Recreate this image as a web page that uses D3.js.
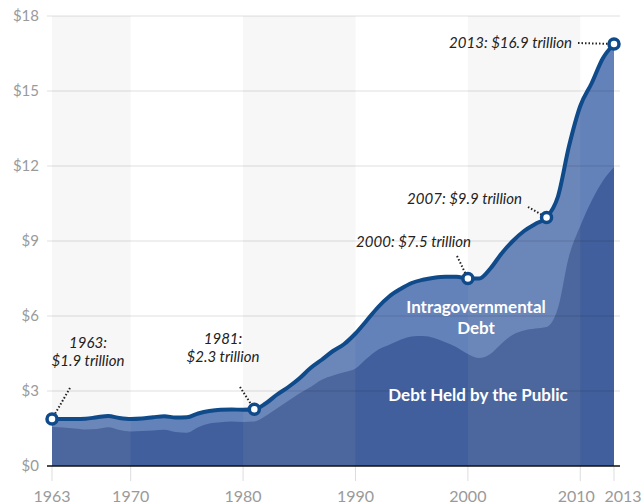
<!DOCTYPE html>
<html>
<head>
<meta charset="utf-8">
<script src="https://cdn.jsdelivr.net/npm/d3@7"></script>
<style>
  body { margin: 0; background: #fff; }
  svg { display: block; font-family: Lato, "Open Sans", sans-serif; }
</style>
</head>
<body>
<script>
// total debt and debt held by the public, trillions of 2013 dollars
const years = d3.range(1963, 2014);
const totalDebt = [
  1.88, 1.88, 1.88, 1.89, 1.95, 2.00, 1.92, 1.88, 1.90, 1.95,
  1.99, 1.94, 1.95, 2.10, 2.20, 2.25, 2.26, 2.25, 2.27, 2.50,
  2.85, 3.15, 3.50, 3.92, 4.25, 4.60, 4.88, 5.30, 5.82, 6.35,
  6.78, 7.08, 7.32, 7.45, 7.53, 7.57, 7.57, 7.50, 7.50, 7.90,
  8.50, 9.00, 9.40, 9.68, 9.94, 10.76, 12.80, 14.40, 15.30, 16.30,
  16.88
];
const publicDebt = [
  1.56, 1.54, 1.50, 1.46, 1.48, 1.55, 1.44, 1.38, 1.40, 1.42,
  1.45, 1.36, 1.33, 1.55, 1.70, 1.75, 1.78, 1.76, 1.78, 2.00,
  2.30, 2.60, 2.90, 3.16, 3.45, 3.62, 3.75, 3.90, 4.30, 4.65,
  4.85, 5.05, 5.18, 5.20, 5.12, 4.95, 4.75, 4.48, 4.32, 4.48,
  4.90, 5.25, 5.42, 5.50, 5.56, 6.30, 8.40, 9.60, 10.60, 11.40,
  11.96
];
const xTicks = [1963, 1970, 1980, 1990, 2000, 2010, 2013];
const yTicks = [0, 3, 6, 9, 12, 15, 18];
const bands = [[1963, 1970], [1980, 1990], [2000, 2010]];
const callouts = [
  {year: 1963, lines: ["1963:", "$1.9 trillion"]},
  {year: 1981, lines: ["1981:", "$2.3 trillion"]},
  {year: 2000, lines: ["2000: $7.5 trillion"]},
  {year: 2007, lines: ["2007: $9.9 trillion"]},
  {year: 2013, lines: ["2013: $16.9 trillion"]}
];

const width = 642, height = 504;
const margin = {top: 16, right: 28, bottom: 38, left: 52};

const x = d3.scaleLinear().domain([1963, 2013]).range([margin.left, width - margin.right]);
const y = d3.scaleLinear().domain([0, 18]).range([height - margin.bottom, margin.top]);

const data = years.map((yr, i) => ({year: yr, total: totalDebt[i], pub: publicDebt[i]}));

const svg = d3.select("body").append("svg")
  .attr("width", width)
  .attr("height", height);

const lineBlue = "#0f4a8a";

// areas
const curve = d3.curveMonotoneX;
svg.append("path")
  .datum(data)
  .attr("fill", "#6482ba")
  .attr("d", d3.area().curve(curve).x(d => x(d.year)).y0(y(0)).y1(d => y(d.total)));

svg.append("path")
  .datum(data)
  .attr("fill", "#415f9c")
  .attr("d", d3.area().curve(curve).x(d => x(d.year)).y0(y(0)).y1(d => y(d.pub)));

// decade bands
svg.append("g").selectAll("rect")
  .data(bands)
  .join("rect")
  .attr("x", d => x(d[0]))
  .attr("width", d => x(d[1]) - x(d[0]))
  .attr("y", y(18))
  .attr("height", y(0) - y(18))
  .attr("fill", "#b4b4b4")
  .attr("opacity", 0.1);

// horizontal grid + y labels
const yAxis = svg.append("g");
yAxis.selectAll("line")
  .data(yTicks.filter(d => d > 0))
  .join("line")
  .attr("x1", margin.left - 5)
  .attr("x2", width - margin.right + 6)
  .attr("y1", d => y(d))
  .attr("y2", d => y(d))
  .attr("stroke", "#000")
  .attr("stroke-opacity", 0.13)
  .attr("stroke-width", 1);

yAxis.selectAll("text")
  .data(yTicks)
  .join("text")
  .attr("x", margin.left - 13)
  .attr("y", d => y(d))
  .attr("dy", "0.35em")
  .attr("text-anchor", "end")
  .attr("fill", "#9a9a9a")
  .style("font-size", "15px")
  .text(d => "$" + d);

// x ticks + labels (last two nudged apart so they don't collide)
const nudge = {2010: -4, 2013: 9};
const xAxis = svg.append("g");
xAxis.selectAll("line")
  .data(xTicks)
  .join("line")
  .attr("x1", d => x(d))
  .attr("x2", d => x(d))
  .attr("y1", y(0))
  .attr("y2", y(0) + 15)
  .attr("stroke", "#ddd");

xAxis.selectAll("text")
  .data(xTicks)
  .join("text")
  .attr("x", d => x(d))
  .attr("dx", d => nudge[d] || 0)
  .attr("y", y(0) + 36)
  .attr("text-anchor", "middle")
  .attr("fill", "#9a9a9a")
  .style("font-size", "16px")
  .text(d => d);

// baseline
svg.append("line")
  .attr("x1", margin.left - 5)
  .attr("x2", width - margin.right + 6)
  .attr("y1", y(0))
  .attr("y2", y(0))
  .attr("stroke", "#111")
  .attr("stroke-width", 1.5);

// area labels
const lbl = svg.append("g")
  .attr("fill", "#fff")
  .attr("font-weight", "bold")
  .attr("text-anchor", "middle")
  .style("font-size", "17px");
lbl.append("text").attr("x", 476).attr("y", 313).text("Intragovernmental");
lbl.append("text").attr("x", 476).attr("y", 334).text("Debt");
lbl.append("text").attr("x", 478).attr("y", 401).text("Debt Held by the Public");

// total line
svg.append("path")
  .datum(data)
  .attr("fill", "none")
  .attr("stroke", lineBlue)
  .attr("stroke-width", 4)
  .attr("stroke-linejoin", "round")
  .attr("d", d3.line().curve(curve).x(d => x(d.year)).y(d => y(d.total)));

// callouts: leader + text
const pos = {
  1963: {tx: 88, ty: 366, ax: 70, ay: 388, anchor: "middle"},
  1981: {tx: 223, ty: 362, ax: 240, ay: 387, anchor: "middle"},
  2000: {tx: 471, ty: 247, ax: 457, ay: 256, anchor: "end"},
  2007: {tx: 522, ty: 204, ax: 528, ay: 207, anchor: "end"},
  2013: {tx: 572, ty: 48, ax: 578, ay: 43, anchor: "end"}
};

const co = svg.append("g");
callouts.forEach(c => {
  const p = pos[c.year];
  const d = data.find(e => e.year === c.year);
  co.append("line")
    .attr("x1", p.ax).attr("y1", p.ay)
    .attr("x2", x(d.year)).attr("y2", y(d.total))
    .attr("stroke", "#222")
    .attr("stroke-width", 2)
    .attr("stroke-dasharray", "1.5,2");
  const t = co.append("text")
    .attr("x", p.tx)
    .attr("y", p.ty - (c.lines.length - 1) * 18)
    .attr("text-anchor", p.anchor)
    .attr("fill", "#222")
    .attr("font-style", "italic")
    .style("font-size", "15px");
  c.lines.forEach((s, i) => {
    t.append("tspan").attr("x", p.tx).attr("dy", i ? 18 : 0).text(s);
  });
});

// markers
svg.append("g").selectAll("circle")
  .data(data.filter(d => pos[d.year]))
  .join("circle")
  .attr("cx", d => x(d.year))
  .attr("cy", d => y(d.total))
  .attr("r", 5)
  .attr("fill", "#fff")
  .attr("stroke", lineBlue)
  .attr("stroke-width", 3.5);
</script>
</body>
</html>
